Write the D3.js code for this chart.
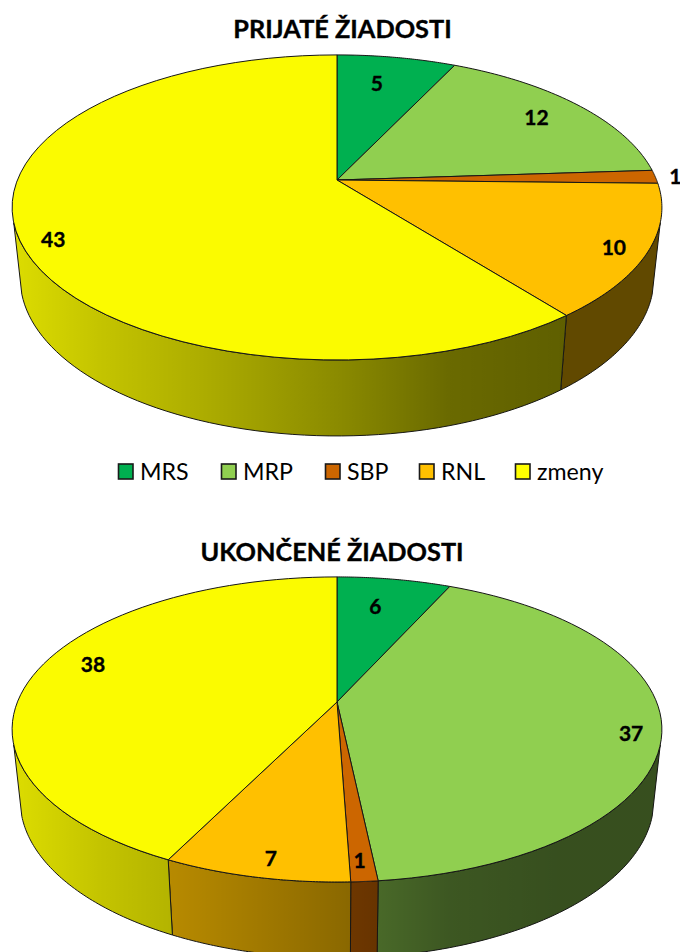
<!DOCTYPE html>
<html><head><meta charset="utf-8">
<script src="https://cdn.jsdelivr.net/npm/d3@7/dist/d3.min.js"></script>
<style>html,body{margin:0;padding:0;background:#fff;overflow:hidden}svg{display:block}text{font-family:Lato,"Open Sans",sans-serif;fill:#000}</style>
</head><body>
<div id="chart"></div>
<script>
const categories = ["MRS", "MRP", "SBP", "RNL", "zmeny"];
const colours = ["#00b050", "#90cf50", "#cc6600", "#ffc000", "#fbfb00"];
const receivedTitle = "PRIJATÉ ŽIADOSTI";
const receivedValues = [5, 12, 1, 10, 43];
const closedTitle = "UKONČENÉ ŽIADOSTI";
const closedValues = [6, 37, 1, 7, 38];

// Label placement: radial fraction and angular nudge (degrees) from each slice's middle
const receivedLabelRadius = [0.75, 0.817, 1.063, 0.906, 0.91];
const receivedLabelNudge = [-1.8, 0, 0, 1.4, -5.6];
const closedLabelRadius = [0.74, 0.91, 0.904, 0.909, 0.842];
const closedLabelNudge = [-1.6, 4.2, 0.3, -1.1, 5.1];

const W = 680, H = 952;
const svg = d3.select("#chart").append("svg").attr("width", W).attr("height", H).attr("viewBox", `0 0 ${W} ${H}`);
const defs = svg.append("defs");

// Perspective disc geometry
const cx = 337, k = 0.18, RX = 319.6, RY = 147.6;
const wallDrop = 70, wallScaleX = 0.975, wallScaleY = 1.033;
const frontStart = 106 * Math.PI / 180, frontEnd = 254 * Math.PI / 180;

function topPt(t, cy, r = 1) {
  const u = r * Math.sin(t), v = r * Math.cos(t), d = 1 + k * v;
  return [cx + RX * u / d, cy - RY * v / d];
}
function basePt(t, cy) {
  const [x, y] = topPt(t, cy);
  return [cx + (x - cx) * wallScaleX, cy + wallDrop + (y - cy) * wallScaleY];
}
const line = d3.line();
const samples = (a, b) => d3.range(0, 61).map(d3.scaleLinear([0, 60], [a, b]));

// Side shading: a black overlay whose strength depends on x
const shade = defs.append("linearGradient").attr("id", "sideShade").attr("gradientUnits", "userSpaceOnUse")
  .attr("x1", 12).attr("x2", 662).attr("y1", 0).attr("y2", 0);
[[12,.12],[100,.22],[200,.31],[340,.45],[450,.58],[560,.62],[662,.62]].forEach(([x,o]) =>
  shade.append("stop").attr("offset", (x - 12) / 650).attr("stop-color", "#000").attr("stop-opacity", o));

const stroke = "#161616";

function boldText(sel) {
  return sel.attr("font-weight", 700).attr("stroke", "#000").attr("stroke-width", 0.35);
}

function drawPie(values, cy, labelRadius, labelNudge) {
  const slices = d3.pie().sort(null).value(d => d)(values);
  const g = svg.append("g");
  // walls
  slices.forEach((s, i) => {
    const a = Math.max(s.startAngle, frontStart), b = Math.min(s.endAngle, frontEnd);
    if (b <= a) return;
    const pts = samples(a, b);
    const outline = pts.map(t => topPt(t, cy)).concat(pts.slice().reverse().map(t => basePt(t, cy)));
    const d = line(outline) + "Z";
    g.append("path").attr("d", d).attr("fill", colours[i]);
    g.append("path").attr("d", d).attr("fill", "url(#sideShade)").attr("stroke", stroke).attr("stroke-width", 1).attr("stroke-linejoin", "round");
  });
  // tops
  slices.forEach((s, i) => {
    const pts = samples(s.startAngle, s.endAngle).map(t => topPt(t, cy));
    g.append("path").attr("d", line([[cx, cy], ...pts]) + "Z").attr("fill", colours[i])
      .attr("stroke", stroke).attr("stroke-width", 1).attr("stroke-linejoin", "round");
  });
  // labels
  slices.forEach((s, i) => {
    const mid = (s.startAngle + s.endAngle) / 2 + labelNudge[i] * Math.PI / 180;
    const [x, y] = topPt(mid, cy, labelRadius[i]);
    g.append("text").attr("x", x).attr("y", y).attr("text-anchor", "middle").attr("dy", "0.35em")
      .attr("font-size", 21).call(boldText).text(values[i]);
  });
}

svg.append("text").attr("x", 342.5).attr("y", 38).attr("text-anchor", "middle").attr("font-size", 25.3).call(boldText).text(receivedTitle);
drawPie(receivedValues, 180, receivedLabelRadius, receivedLabelNudge);

// Legend
const legendSwatch = [118, 221, 325, 419, 515];
categories.forEach((c, i) => {
  svg.append("rect").attr("x", legendSwatch[i] + 0.5).attr("y", 464).attr("width", 14.5).attr("height", 15)
    .attr("fill", i === 4 ? "#ffff00" : colours[i]).attr("stroke", "#1a1a1a").attr("stroke-width", 1.6);
  svg.append("text").attr("x", legendSwatch[i] + 22).attr("y", 480).attr("font-size", 23.2).attr("fill", "#222").text(c);
});

svg.append("text").attr("x", 332).attr("y", 561).attr("text-anchor", "middle").attr("font-size", 25.3).call(boldText).text(closedTitle);
drawPie(closedValues, 702, closedLabelRadius, closedLabelNudge);
</script>
</body></html>
